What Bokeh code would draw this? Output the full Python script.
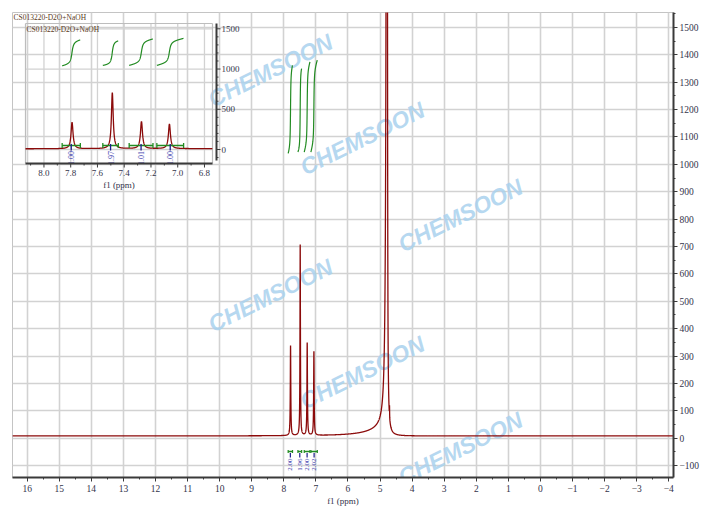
import numpy as np
from bokeh.plotting import figure
from bokeh.models import Range1d, FixedTicker
from bokeh.core.properties import value
from bokeh.embed import file_html
from bokeh.resources import INLINE

# ---------------- data ----------------
title_text = "CS013220-D2O+NaOH"
x_axis_title = "f1 (ppm)"

# peak list of the spectrum (ppm, height, half-widths on high-ppm / low-ppm side)
peak_ppm = [7.790, 7.489, 7.271, 7.062, 4.780, 4.780, 4.705]
peak_height = [328, 697, 338, 306, 9000, 28, 40]
peak_hw_left = [0.009, 0.008, 0.009, 0.009, 0.016, 0.60, 0.003]
peak_hw_right = [0.009, 0.008, 0.009, 0.009, 0.006, 0.08, 0.003]
baseline_level = 8

# integrals
integ_hi_ppm = [7.864, 7.560, 7.363, 7.156]
integ_lo_ppm = [7.728, 7.444, 7.185, 6.956]
integ_label_inset = ["1.00", "1.97", "1.01", "1.00"]
integ_label_main = ["2.00", "1.96", "2.00", "2.02"]
integ_curve_bottom = [1040, 1045, 1045, 1045]
integ_curve_top = [1362, 1350, 1374, 1381]

# ticks
main_x_ticks = list(range(-4, 17))
main_x_minor = [t / 2 for t in range(-8, 33)]
main_y_ticks = list(range(-100, 1501, 100))
main_y_minor = list(range(-150, 1551, 50))
inset_x_ticks = [8.0, 7.8, 7.6, 7.4, 7.2, 7.0, 6.8]
inset_x_minor = [8.1, 7.9, 7.7, 7.5, 7.3, 7.1, 6.9]
inset_y_ticks = [0, 500, 1000, 1500]
inset_y_minor = [-100, 100, 200, 300, 400, 600, 700, 800, 900, 1100, 1200, 1300, 1400]

watermark_text = "CHEMSOON"

# ---------------- layout ----------------
FIG_W, FIG_H = 712, 508
FL, FR, FT, FB = 12, 673, 12, 477           # main frame in canvas px
x_start, x_end = 16.457, -4.147
y_start, y_end = -143.7, 1554.7

IL, IR, IT, IB = 25, 212, 23, 163           # inset box in canvas px
ix0, ix1 = 8.138, 6.74
iy0, iy1 = -174.0, 1566.0

SERIF = value("Liberation Serif")
GRID = "#d2d2d2"
AX = "#3a3a3a"
LBL = "#33334a"
RED = "#8b0a0a"
GREEN = "#228b22"
BLUE = "#4343b0"

p = figure(width=FIG_W, height=FIG_H, output_backend="svg", toolbar_location=None,
           x_range=Range1d(x_start, x_end), y_range=Range1d(y_start, y_end),
           y_axis_location="right", x_axis_location="below",
           min_border_left=FL, min_border_top=FT,
           min_border_right=FIG_W - FR, min_border_bottom=FIG_H - FB)
p.background_fill_color = "white"
p.border_fill_color = "white"
p.outline_line_color = "#c4c4c4"
p.outline_line_width = 1

# main axes
xa = p.xaxis[0]
xa.ticker = FixedTicker(ticks=main_x_ticks, minor_ticks=main_x_minor)
xa.axis_label = x_axis_title
xa.axis_label_text_font = "Liberation Serif"
xa.axis_label_text_font_style = "normal"
xa.axis_label_text_font_size = "9px"
xa.axis_label_text_color = LBL
xa.axis_label_standoff = 1
xa.major_label_text_font = "Liberation Serif"
xa.major_label_text_font_size = "9.5px"
xa.major_label_text_color = LBL
xa.major_label_standoff = 3
xa.axis_line_width = 2
xa.axis_line_color = AX
xa.major_tick_in = 0
xa.major_tick_out = 4
xa.minor_tick_in = 0
xa.minor_tick_out = 2
xa.major_tick_line_color = AX
xa.minor_tick_line_color = AX

ya = p.yaxis[0]
ya.ticker = FixedTicker(ticks=main_y_ticks, minor_ticks=main_y_minor)
ya.major_label_text_font = "Liberation Serif"
ya.major_label_text_font_size = "9.5px"
ya.major_label_text_color = LBL
ya.major_label_standoff = 2
ya.axis_line_width = 2
ya.axis_line_color = AX
ya.major_tick_in = 0
ya.major_tick_out = 4
ya.minor_tick_in = 0
ya.minor_tick_out = 2
ya.major_tick_line_color = AX
ya.minor_tick_line_color = AX

p.xgrid.grid_line_color = GRID
p.xgrid.grid_line_width = 1.6
p.ygrid.grid_line_color = GRID
p.ygrid.grid_line_width = 1.3

# pixel <-> data helpers for the main frame
mx_per_px = (x_end - x_start) / (FR - FL)
my_per_px = (y_end - y_start) / (FB - FT)


def main_x(px):
    return x_start + (px - FL) * mx_per_px


def main_y(py):
    return y_end - (py - FT) * my_per_px


# inset ranges mapped into the main frame
sx = (ix1 - ix0) / (IR - IL)
sy = (iy1 - iy0) / (IB - IT)
p.extra_x_ranges = {"ix": Range1d(ix0 - (IL - FL) * sx, ix1 + (FR - IR) * sx)}
p.extra_y_ranges = {"iy": Range1d(iy0 - (FB - IB) * sy, iy1 + (IT - FT) * sy)}
IN = dict(x_range_name="ix", y_range_name="iy")

# ---------------- spectrum model ----------------
ppm = np.arange(16.46, -4.15, -0.001)
spec = np.full_like(ppm, float(baseline_level))
for c, h, wl, wr in zip(peak_ppm, peak_height, peak_hw_left, peak_hw_right):
    d = ppm - c
    w = np.where(d > 0, wl, wr)
    spec += h * w ** 2 / (d ** 2 + w ** 2)


def integral_curve(hi, lo, bottom, top):
    m = (ppm <= hi) & (ppm >= lo)
    xs = ppm[m]
    cum = np.cumsum(spec[m])
    cum = (cum - cum[0]) / (cum[-1] - cum[0])
    return xs, bottom + cum * (top - bottom)


# ---------------- watermark ----------------
wm_px = [(270, 70), (362, 138), (460, 215), (270, 295), (362, 372), (460, 448)]
p.text(x=[main_x(a) for a, b in wm_px], y=[main_y(b) for a, b in wm_px],
       text=[watermark_text] * len(wm_px), angle=0.46,
       text_font=value("Liberation Sans"), text_font_style="bold italic",
       text_font_size="23px", text_color="#a9d1ee", text_alpha=0.85,
       text_align="center", text_baseline="middle")

# ---------------- main spectrum ----------------
p.line(ppm, spec, line_color=RED, line_width=1.3)

for hi, lo, b, t in zip(integ_hi_ppm, integ_lo_ppm, integ_curve_bottom, integ_curve_top):
    xs, ys = integral_curve(hi, lo, b, t)
    p.line(xs, ys, line_color=GREEN, line_width=1.2)

# main integral brackets and labels
mpx_y = my_per_px
br_y = -49
centers = [(h + l) / 2 for h, l in zip(integ_hi_ppm, integ_lo_ppm)]
p.segment(x0=integ_hi_ppm, y0=[br_y] * 4, x1=integ_lo_ppm, y1=[br_y] * 4,
          line_color=GREEN, line_width=1.5)
p.segment(x0=integ_hi_ppm + integ_lo_ppm, y0=[br_y - 1.5 * mpx_y] * 8,
          x1=integ_hi_ppm + integ_lo_ppm, y1=[br_y + 1.5 * mpx_y] * 8,
          line_color=GREEN, line_width=1.2)
p.segment(x0=centers, y0=[br_y - 1.5 * mpx_y] * 4, x1=centers, y1=[br_y - 6 * mpx_y] * 4,
          line_color="#1c1c8c", line_width=1.2)
p.text(x=centers, y=[br_y - 7 * mpx_y] * 4, text=integ_label_main, angle=np.pi / 2,
       text_font=SERIF, text_font_size="7px", text_color=BLUE,
       text_align="right", text_baseline="middle")

# main title
p.text(x=[x_start], y=[y_end], text=[title_text], text_font=SERIF, text_font_size="7.5px",
       text_color="#5a3a22", text_align="left", text_baseline="top", x_offset=1)

# ---------------- inset ----------------
# grid
p.segment(x0=inset_x_ticks, y0=[iy0] * 7, x1=inset_x_ticks, y1=[iy1] * 7,
          line_color=GRID, line_width=1.3, **IN)
p.segment(x0=[ix0] * 4, y0=inset_y_ticks, x1=[ix1] * 4, y1=inset_y_ticks,
          line_color=GRID, line_width=1.3, **IN)
# frame
p.segment(x0=[ix0, ix0, ix1], y0=[iy0, iy1, iy0], x1=[ix0, ix1, ix1], y1=[iy1, iy1, iy1],
          line_color="#bdbdbd", line_width=1.2, **IN)

# inset spectrum
m = (ppm <= ix0) & (ppm >= ix1)
p.line(ppm[m], spec[m], line_color=RED, line_width=1.3, **IN)

for hi, lo, b, t in zip(integ_hi_ppm, integ_lo_ppm, integ_curve_bottom, integ_curve_top):
    xs, ys = integral_curve(hi, lo, b, t)
    p.line(xs, ys, line_color=GREEN, line_width=1.2, **IN)

ibr_y = 50
p.segment(x0=integ_hi_ppm, y0=[ibr_y] * 4, x1=integ_lo_ppm, y1=[ibr_y] * 4,
          line_color=GREEN, line_width=1.5, **IN)
p.segment(x0=integ_hi_ppm + integ_lo_ppm, y0=[ibr_y - 2.5 * sy] * 8,
          x1=integ_hi_ppm + integ_lo_ppm, y1=[ibr_y + 2.5 * sy] * 8,
          line_color=GREEN, line_width=1.3, **IN)
p.segment(x0=centers, y0=[ibr_y + 1.5 * sy] * 4, x1=centers, y1=[ibr_y - 5 * sy] * 4,
          line_color="#1c1c8c", line_width=1.3, **IN)
p.text(x=centers, y=[ibr_y - 5.5 * sy] * 4, text=integ_label_inset, angle=np.pi / 2,
       text_font=SERIF, text_font_size="8px", text_color=BLUE,
       text_align="right", text_baseline="middle", **IN)

# inset x axis
p.segment(x0=[ix0], y0=[iy0], x1=[ix1], y1=[iy0], line_color=AX, line_width=2, **IN)
p.segment(x0=inset_x_ticks, y0=[iy0] * 7, x1=inset_x_ticks, y1=[iy0 - 4 * sy] * 7,
          line_color=AX, line_width=1, **IN)
p.segment(x0=inset_x_minor, y0=[iy0] * 7, x1=inset_x_minor, y1=[iy0 - 2 * sy] * 7,
          line_color=AX, line_width=1, **IN)
p.text(x=inset_x_ticks, y=[iy0 - 6 * sy] * 7, text=[f"{v:.1f}" for v in inset_x_ticks],
       text_font=SERIF, text_font_size="9px", text_color=LBL,
       text_align="center", text_baseline="top", **IN)
p.text(x=[(ix0 + ix1) / 2], y=[iy0 - 16 * sy], text=[x_axis_title],
       text_font=SERIF, text_font_size="9px", text_color=LBL,
       text_align="center", text_baseline="top", **IN)

# inset y axis (right)
ax_x = ix1 + 4 * sx
p.segment(x0=[ax_x], y0=[iy0 + 3 * sy], x1=[ax_x], y1=[iy1], line_color=AX, line_width=2, **IN)
p.segment(x0=[ax_x] * 4, y0=inset_y_ticks, x1=[ax_x + 4 * sx] * 4, y1=inset_y_ticks,
          line_color=AX, line_width=1, **IN)
p.segment(x0=[ax_x] * len(inset_y_minor), y0=inset_y_minor,
          x1=[ax_x + 2 * sx] * len(inset_y_minor), y1=inset_y_minor,
          line_color=AX, line_width=1, **IN)
p.text(x=[ax_x + 5 * sx] * 4, y=inset_y_ticks, text=[str(v) for v in inset_y_ticks],
       text_font=SERIF, text_font_size="9px", text_color=LBL,
       text_align="left", text_baseline="middle", **IN)

# inset title
p.text(x=[ix0], y=[iy1], text=[title_text], text_font=SERIF, text_font_size="7.5px",
       text_color="#5a3a22", text_align="left", text_baseline="top", x_offset=1, y_offset=1, **IN)

open("out.html", "w").write(file_html(p, INLINE))
